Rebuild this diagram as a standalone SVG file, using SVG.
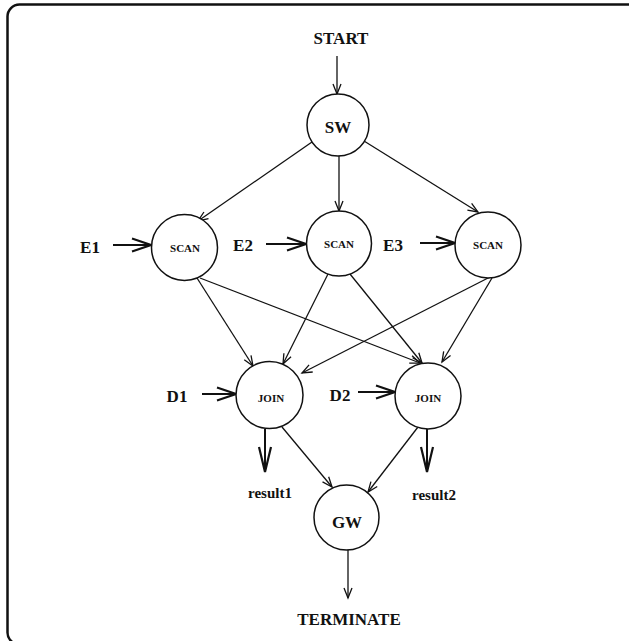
<svg xmlns="http://www.w3.org/2000/svg" width="629" height="641" viewBox="0 0 629 641">
  <style>
    .node circle { fill: #fff; stroke: #111; stroke-width: 1.5; }
    text { font-family: "Liberation Serif", "Times New Roman", serif; font-weight: bold; fill: #111; text-anchor: middle; }
    .big { font-size: 17px; }
    .small { font-size: 11px; }
    .res { font-size: 15px; }
    .edge { stroke: #111; stroke-width: 1.3; fill: none; marker-end: url(#arrow); }
    .input { stroke: #111; stroke-width: 2; fill: none; marker-end: url(#arrowBig); }
    .output { stroke: #111; stroke-width: 2; fill: none; marker-end: url(#arrowLong); }
  </style>
  <defs>
    <marker id="arrow" markerUnits="userSpaceOnUse" viewBox="-12 -6 14 12" refX="0" refY="0" markerWidth="14" markerHeight="12" orient="auto">
      <path d="M-10,-4 L0,0 L-10,4" fill="none" stroke="#111" stroke-width="1.3"/>
    </marker>
    <marker id="arrowBig" markerUnits="userSpaceOnUse" viewBox="-22 -9 24 18" refX="0" refY="0" markerWidth="24" markerHeight="18" orient="auto">
      <path d="M-19,-6.5 L0,0 L-19,6.5" fill="none" stroke="#111" stroke-width="2.2"/>
    </marker>
    <marker id="arrowLong" markerUnits="userSpaceOnUse" viewBox="-28 -9 30 18" refX="0" refY="0" markerWidth="30" markerHeight="18" orient="auto">
      <path d="M-25,-6 L0,0 L-25,6" fill="none" stroke="#111" stroke-width="2.2"/>
    </marker>
  </defs>

  <!-- frame -->
  <rect x="7.5" y="4.5" width="640" height="640" rx="12" fill="none" stroke="#111" stroke-width="2.5"/>

  <!-- connectors -->
  <g id="connectors">
    <line class="edge" x1="337" y1="56" x2="337" y2="94"/>
    <line class="edge" x1="312" y1="142" x2="198" y2="221"/>
    <line class="edge" x1="339" y1="156" x2="339" y2="211"/>
    <line class="edge" x1="364" y1="141" x2="478" y2="212"/>
    <line class="edge" x1="197" y1="278" x2="253" y2="366"/>
    <line class="edge" x1="200" y1="278" x2="420" y2="363"/>
    <line class="edge" x1="328" y1="274" x2="283" y2="364"/>
    <line class="edge" x1="350" y1="274" x2="422" y2="363"/>
    <line class="edge" x1="490" y1="277" x2="302" y2="373"/>
    <line class="edge" x1="492" y1="278" x2="442" y2="362"/>
    <line class="edge" x1="282" y1="427" x2="332" y2="487"/>
    <line class="edge" x1="418" y1="427" x2="368" y2="492"/>
    <line class="edge" x1="348" y1="550" x2="348" y2="598"/>
    <!-- external inputs -->
    <line class="input" x1="113" y1="245" x2="151" y2="245"/>
    <line class="input" x1="266" y1="244" x2="306" y2="244"/>
    <line class="input" x1="420" y1="243" x2="455" y2="243"/>
    <line class="input" x1="202" y1="394" x2="236" y2="394"/>
    <line class="input" x1="358" y1="392" x2="395" y2="392"/>
    <!-- results -->
    <line class="output" x1="265" y1="429" x2="265" y2="472"/>
    <line class="output" x1="427" y1="429" x2="427" y2="472"/>
  </g>

  <!-- labels -->
  <g id="labels">
    <text class="big" x="341" y="44">START</text>
    <text class="big" x="90" y="253">E1</text>
    <text class="big" x="243" y="251">E2</text>
    <text class="big" x="393" y="251">E3</text>
    <text class="big" x="177" y="402">D1</text>
    <text class="big" x="340" y="401">D2</text>
    <text class="res" x="270" y="498">result1</text>
    <text class="res" x="434" y="500">result2</text>
    <text class="big" x="349" y="625">TERMINATE</text>
  </g>

  <g id="sw" class="node">
    <circle cx="338" cy="125" r="31"/>
    <text class="big" x="338" y="133">SW</text>
  </g>
  <g id="scan1" class="node">
    <circle cx="184.5" cy="247.5" r="33"/>
    <text class="small" x="185" y="252">SCAN</text>
  </g>
  <g id="scan2" class="node">
    <circle cx="339" cy="243.5" r="32.5"/>
    <text class="small" x="339" y="248">SCAN</text>
  </g>
  <g id="scan3" class="node">
    <circle cx="488" cy="245" r="33"/>
    <text class="small" x="488" y="249">SCAN</text>
  </g>
  <g id="join1" class="node">
    <circle cx="269.5" cy="395" r="33.5"/>
    <text class="small" x="271" y="402">JOIN</text>
  </g>
  <g id="join2" class="node">
    <circle cx="428" cy="396" r="33"/>
    <text class="small" x="428" y="402">JOIN</text>
  </g>
  <g id="gw" class="node">
    <circle cx="346.5" cy="517.5" r="32.5"/>
    <text class="big" x="347" y="528">GW</text>
  </g>
</svg>
